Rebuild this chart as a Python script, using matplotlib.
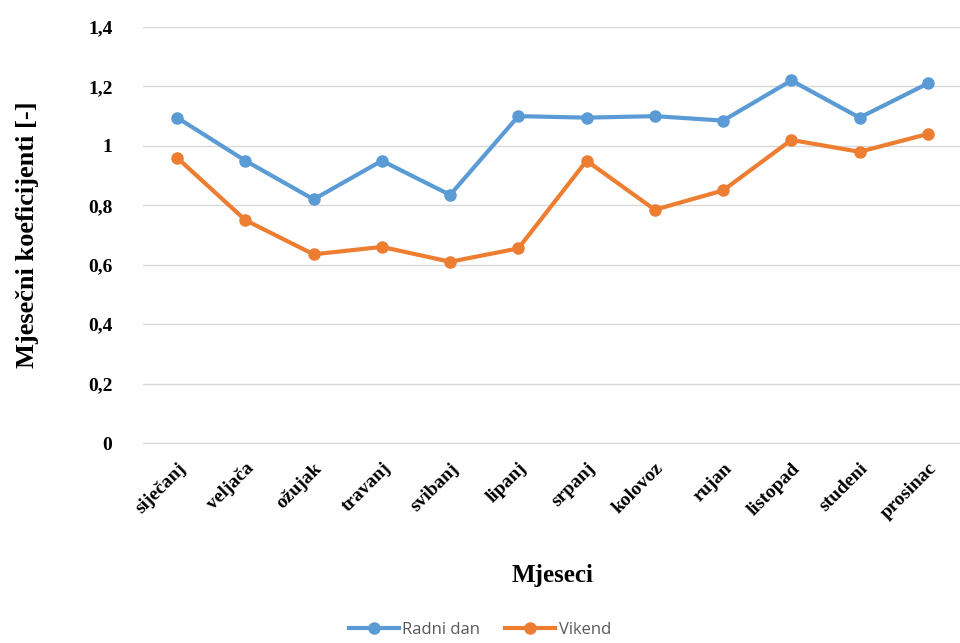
import matplotlib.pyplot as plt
from matplotlib.ticker import FuncFormatter

months = ['siječanj', 'veljača', 'ožujak', 'travanj', 'svibanj', 'lipanj',
          'srpanj', 'kolovoz', 'rujan', 'listopad', 'studeni', 'prosinac']
radni_dan = [1.095, 0.95, 0.82, 0.95, 0.835, 1.10, 1.095, 1.10, 1.085, 1.22, 1.095, 1.21]
vikend = [0.96, 0.75, 0.635, 0.66, 0.61, 0.655, 0.95, 0.785, 0.85, 1.02, 0.98, 1.04]

fig = plt.figure(figsize=(9.6, 6.43), dpi=100)
ax = fig.add_axes([0.149, 0.311, 0.853, 0.647])
x = range(len(months))
ax.plot(x, radni_dan, color='#5B9BD5', lw=3, marker='o', ms=8, label='Radni dan')
ax.plot(x, vikend, color='#ED7D31', lw=3, marker='o', ms=8, label='Vikend')

ax.set_ylim(0, 1.4)
ax.set_xlim(-0.5, 11.5)
ax.set_yticks([0, 0.2, 0.4, 0.6, 0.8, 1.0, 1.2, 1.4])
ax.yaxis.set_major_formatter(FuncFormatter(lambda v, p: ('%g' % round(v, 1)).replace('.', ',')))
ax.grid(axis='y', color='#D9D9D9', lw=1)
ax.set_axisbelow(True)
for s in ['top', 'right', 'left']:
    ax.spines[s].set_visible(False)
ax.spines['bottom'].set_color('#D9D9D9')
ax.tick_params(length=0)
ax.set_xticks(list(x))
ax.set_xticklabels(months, rotation=45, ha='right', rotation_mode='anchor',
                   family='Liberation Serif', fontweight='bold', fontsize=14)
ax.tick_params(axis='x', pad=12)
for t in ax.get_yticklabels():
    t.set_family('Liberation Serif'); t.set_fontweight('bold'); t.set_fontsize(14)
ax.tick_params(axis='y', pad=22)
ax.set_xlabel('Mjeseci', family='Liberation Serif', fontweight='bold', fontsize=18, labelpad=30)
ax.set_ylabel('Mjesečni koeficijenti [-]', family='Liberation Serif', fontweight='bold', fontsize=19, labelpad=35)
fig.legend(loc='lower center', bbox_to_anchor=(0.5, -0.015), ncol=2, frameon=False,
           handlelength=3, handletextpad=0.2, columnspacing=1.5,
           prop={'family': 'Open Sans', 'size': 12}, labelcolor='#595959')
fig.savefig('out.png')
